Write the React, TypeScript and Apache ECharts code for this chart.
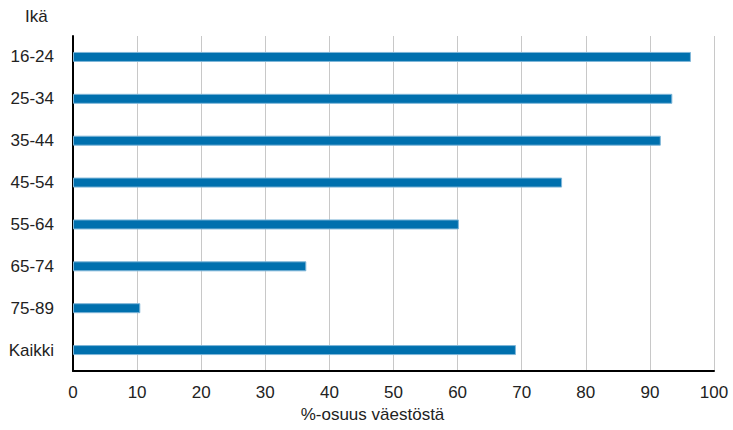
import React, { useEffect, useRef } from "react";
import * as echarts from "echarts";

const ageGroups = ["16-24", "25-34", "35-44", "45-54", "55-64", "65-74", "75-89", "Kaikki"];
const shares = [96.4, 93.5, 91.7, 76.3, 60.2, 36.4, 10.5, 69.1];

const FONT = "'Liberation Sans', Arial, sans-serif";

const App = () => {
  const chartRef = useRef<HTMLDivElement>(null);

  useEffect(() => {
    document.body.style.margin = "0";
    if (!chartRef.current) return;
    const myChart = echarts.init(chartRef.current, null, { renderer: "svg" });

    myChart.setOption({
      animation: false,
      backgroundColor: "#ffffff",
      grid: { left: 73, right: 19, top: 36, bottom: 59 },
      graphic: [
        {
          type: "text",
          left: 25,
          top: 8,
          style: { text: "Ikä", font: `17px ${FONT}`, fill: "#222" },
        },
      ],
      xAxis: {
        type: "value",
        min: 0,
        max: 100,
        interval: 10,
        name: "%-osuus väestöstä",
        nameLocation: "middle",
        nameGap: 34,
        nameTextStyle: { fontFamily: FONT, fontSize: 17, color: "#222", padding: [0, 42, 0, 0] },
        axisLine: { show: true, lineStyle: { color: "#000", width: 2 } },
        axisTick: { show: false },
        axisLabel: { fontFamily: FONT, fontSize: 17, color: "#222", margin: 13 },
        splitLine: { show: true, lineStyle: { color: "#c8c8c8", width: 1 } },
      },
      yAxis: {
        type: "category",
        inverse: true,
        data: ageGroups,
        axisLine: { show: true, lineStyle: { color: "#000", width: 2 } },
        axisTick: { show: false },
        axisLabel: { fontFamily: FONT, fontSize: 17, color: "#222", margin: 19 },
        splitLine: { show: false },
      },
      series: [
        {
          type: "bar",
          data: shares,
          barWidth: 10,
          itemStyle: { color: "#0070ae", borderColor: "#7fb6d8", borderWidth: 1 },
        },
      ],
    });

    return () => {
      myChart.dispose();
    };
  }, []);

  return <div ref={chartRef} style={{ width: "733px", height: "430px" }} />;
};

export default App;
